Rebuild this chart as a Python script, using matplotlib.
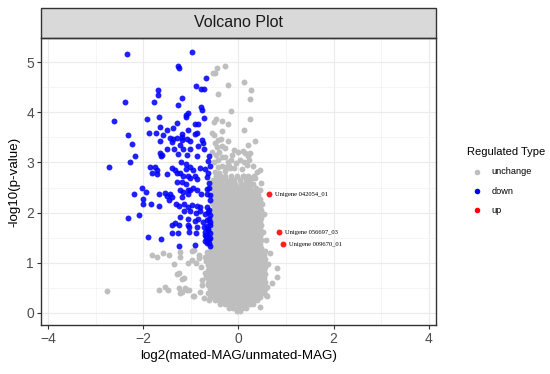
import matplotlib
matplotlib.use("Agg")
import matplotlib.pyplot as plt
from matplotlib.patches import Rectangle
from matplotlib.lines import Line2D
from matplotlib.ticker import MultipleLocator

plt.rcParams['font.family'] = ['Liberation Sans', 'DejaVu Sans']

# (log2 fold change, -log10 p)
DOWN_POINTS = [
    (-2.35, 5.16), (-0.98, 5.20), (-1.27, 4.92), (-1.25, 4.88), (-0.69, 4.68),
    (-0.89, 4.52), (-0.78, 4.46), (-0.73, 4.46), (-1.70, 4.44), (-1.70, 4.35),
    (-2.39, 4.21), (-1.78, 4.20), (-1.18, 4.28), (-1.27, 4.14), (-0.79, 4.10),
    (-0.76, 4.05), (-1.07, 3.98), (-1.10, 3.94), (-1.11, 3.91), (-2.61, 3.82),
    (-1.92, 3.86), (-1.66, 3.90), (-1.30, 3.79), (-0.91, 3.76), (-0.85, 3.76),
    (-0.72, 3.88), (-1.65, 3.70), (-1.50, 3.65), (-1.37, 3.69), (-1.07, 3.65),
    (-1.88, 3.59), (-1.74, 3.59), (-1.58, 3.55), (-1.19, 3.57), (-0.92, 3.57),
    (-0.88, 3.58), (-2.33, 3.55), (-2.23, 3.37), (-1.44, 3.49), (-1.37, 3.46),
    (-1.30, 3.49), (-1.19, 3.50), (-1.18, 3.45), (-1.09, 3.46), (-0.76, 3.45),
    (-0.74, 3.38), (-1.65, 3.42), (-1.40, 3.41), (-1.23, 3.34), (-1.01, 3.42),
    (-0.85, 3.33), (-1.50, 3.27), (-1.36, 3.27), (-1.16, 3.27), (-1.02, 3.27),
    (-0.73, 3.27), (-2.17, 3.13), (-2.27, 3.00), (-2.72, 2.90), (-1.64, 3.18),
    (-1.62, 3.13), (-1.60, 3.15), (-1.27, 3.17), (-1.09, 3.15), (-0.88, 3.13),
    (-0.62, 3.12), (-1.20, 3.01), (-1.11, 2.97), (-1.85, 2.90), (-1.76, 2.90),
    (-1.72, 2.85), (-1.81, 2.78), (-1.72, 2.76), (-1.50, 2.76), (-1.39, 2.89),
    (-1.33, 2.85), (-1.29, 2.79), (-1.11, 2.86), (-1.02, 2.90), (-0.95, 2.85),
    (-0.80, 2.89), (-0.70, 2.87), (-0.65, 2.78), (-1.22, 2.78), (-1.16, 2.72),
    (-1.07, 2.73), (-0.91, 2.73), (-0.87, 2.66), (-0.67, 2.70), (-0.62, 2.60),
    (-1.30, 2.61), (-1.18, 2.62), (-1.11, 2.58), (-1.01, 2.68), (-2.03, 2.50),
    (-1.95, 2.41), (-2.20, 2.37), (-1.68, 2.38), (-1.55, 2.40), (-1.51, 2.34),
    (-1.43, 2.38), (-1.39, 2.31), (-1.47, 2.26), (-1.22, 2.45), (-1.16, 2.41),
    (-1.18, 2.32), (-1.07, 2.45), (-1.07, 2.38), (-1.01, 2.45), (-0.95, 2.49),
    (-0.87, 2.45), (-0.78, 2.38), (-0.67, 2.48), (-0.67, 2.38), (-0.59, 2.36),
    (-2.00, 2.28), (-2.00, 2.18), (-1.83, 2.18), (-1.68, 2.14), (-1.32, 2.18),
    (-1.25, 2.13), (-1.15, 2.17), (-1.07, 2.12), (-0.98, 2.16), (-0.88, 2.14),
    (-0.80, 2.12), (-0.66, 2.12), (-1.15, 2.04), (-1.02, 2.04), (-0.90, 2.00),
    (-0.81, 2.04), (-0.71, 1.98), (-0.64, 2.02), (-2.33, 1.89), (-2.09, 1.96),
    (-1.22, 1.92), (-1.07, 1.87), (-0.92, 1.83), (-0.85, 1.88), (-1.33, 1.79),
    (-1.39, 1.76), (-1.25, 1.76), (-0.74, 1.81), (-0.67, 1.85), (-0.62, 1.88),
    (-0.59, 1.81), (-1.07, 1.75), (-1.05, 1.71), (-0.88, 1.71), (-0.73, 1.71),
    (-0.66, 1.73), (-0.60, 1.75), (-0.71, 1.61), (-0.64, 1.65), (-0.59, 1.60),
    (-1.39, 1.60), (-1.27, 1.60), (-1.05, 1.61), (-0.90, 1.60), (-1.90, 1.51),
    (-1.62, 1.47), (-0.67, 1.45), (-0.62, 1.48), (-0.69, 1.52), (-1.25, 1.33),
    (-0.92, 1.36), (-0.59, 1.33), (-0.71, 1.44), (-0.66, 1.40), (-0.70, 1.56),
    (-0.66, 1.55), (-0.64, 3.02), (-0.60, 2.92), (-0.62, 2.50), (-0.60, 2.25),
    (-0.61, 2.05), (-0.60, 1.95), (-0.63, 1.68), (-0.60, 1.50), (-0.62, 1.40),
]

UP_X = [0.65, 0.85, 0.94]
UP_Y = [2.37, 1.61, 1.37]
UP_LABELS = ["Unigene 042054_01", "Unigene 056697_03", "Unigene 009670_01"]

# scattered unchanged genes outside the dense core
GRAY_POINTS = [
    (-0.29, 4.93), (-0.45, 4.88), (-0.49, 4.79), (-0.53, 4.79), (-0.22, 4.55),
    (0.11, 4.60), (0.27, 4.44), (-0.42, 4.36), (0.24, 4.26), (-0.15, 4.03),
    (0.25, 3.87), (-0.48, 3.87), (-0.52, 3.80), (-0.35, 3.82), (-0.21, 3.76),
    (-0.56, 3.59), (-0.52, 3.55), (-0.35, 3.63), (0.11, 3.65), (-0.42, 3.45),
    (-0.36, 3.46), (-0.21, 3.43), (-0.35, 3.33), (-0.45, 3.30), (0.35, 3.42),
    (0.20, 3.34), (-0.56, 3.21), (-0.10, 3.25), (-0.13, 3.15), (-0.29, 3.11),
    (-0.34, 3.10), (0.10, 3.23), (0.14, 3.18), (0.20, 3.13), (0.25, 3.18),
    (0.11, 3.01), (0.07, 2.87), (0.45, 2.84), (-0.43, 2.91), (-0.35, 2.92),
    (-0.27, 2.91), (-0.20, 2.93), (-0.18, 2.88), (-0.10, 2.89), (0.27, 2.69),
    (0.34, 2.69), (0.10, 2.72), (-0.50, 3.38), (-0.28, 3.28), (0.03, 3.05),
    (-0.05, 2.98), (0.18, 2.95), (0.30, 2.92), (0.38, 2.80), (-0.50, 2.80),
    (-0.40, 2.78), (0.22, 3.05), (-0.15, 3.05), (0.00, 3.20), (-0.52, 3.00),
    (-0.44, 3.05), (-0.48, 3.15), (-0.40, 3.20), (-0.22, 3.00), (-0.28, 2.82),
    (0.49, 2.18), (0.53, 1.98), (0.52, 1.62), (0.66, 1.19), (0.81, 0.89),
    (0.81, 0.72), (0.60, 0.33), (0.60, 0.51), (0.57, 0.35), (0.45, 0.12),
    (0.58, 1.45), (0.62, 0.98), (0.70, 0.60), (0.46, 2.45), (0.48, 2.60),
    (-0.94, 1.26), (-0.97, 1.06), (-1.15, 0.69), (-0.94, 0.33), (-1.08, 0.46),
    (-1.81, 1.16), (-1.71, 1.12), (-1.58, 1.19), (-1.47, 1.16), (-1.23, 1.22),
    (-1.22, 1.12), (-0.98, 1.24), (-1.36, 0.98), (-1.07, 0.99), (-0.90, 0.99),
    (-0.83, 1.10), (-0.71, 1.11), (-0.78, 0.91), (-0.63, 0.95), (-1.30, 0.78),
    (-1.25, 0.79), (-1.18, 0.68), (-0.71, 0.80), (-0.69, 0.72), (-0.76, 0.66),
    (-0.64, 0.60), (-2.77, 0.43), (-1.67, 0.46), (-1.55, 0.51), (-1.49, 0.46),
    (-1.26, 0.50), (-1.23, 0.40), (-1.18, 0.42), (-1.12, 0.50), (-1.05, 0.46),
    (-0.80, 0.42), (-0.95, 0.33), (-0.73, 0.30), (-0.62, 0.26), (-0.76, 0.56),
    (-0.83, 1.16), (-0.69, 1.04), (-0.62, 1.07), (-0.58, 1.00), (-0.66, 1.22),
    (-0.60, 1.18),
]

# dense core of unchanged genes, estimated row by row (y, x values)
CORE_TIP_ROWS = [
    (0.03, [-0.03, 0.04]),
    (0.10, [-0.20, -0.11, -0.02, 0.07, 0.16]),
    (0.175, [-0.38, -0.29, -0.20, -0.11, -0.02, 0.07, 0.16, 0.25, 0.31]),
    (0.25, [-0.50, -0.42, -0.33, -0.24, -0.15, -0.06, 0.03, 0.12, 0.21, 0.30, 0.38]),
    (0.325, [-0.60, -0.51, -0.42, -0.33, -0.24, -0.15, -0.06, 0.03, 0.12, 0.21,
             0.30, 0.39, 0.45]),
]
CORE_TOP_ROWS = [
    (2.35, [-0.56, -0.47, -0.38, -0.29, -0.20, -0.11, -0.02, 0.07, 0.16, 0.25, 0.34, 0.42]),
    (2.425, [-0.52, -0.43, -0.34, -0.25, -0.16, -0.07, 0.02, 0.11, 0.20, 0.29, 0.38]),
    (2.50, [-0.56, -0.47, -0.38, -0.29, -0.20, -0.11, -0.02, 0.07, 0.16, 0.25, 0.36]),
    (2.575, [-0.52, -0.43, -0.34, -0.25, -0.16, -0.07, 0.05, 0.13, 0.22, 0.31]),
    (2.65, [-0.54, -0.45, -0.36, -0.27, -0.18, -0.09, 0.03, 0.15, 0.24]),
    (2.73, [-0.48, -0.38, -0.29, -0.16, -0.04, 0.12, 0.21, 0.33]),
]
CORE_WIDE_A = [-0.64, -0.55, -0.46, -0.37, -0.28, -0.19, -0.10, -0.01, 0.08, 0.17,
               0.26, 0.35, 0.44, 0.53]
CORE_WIDE_B = [-0.60, -0.51, -0.42, -0.33, -0.24, -0.15, -0.06, 0.03, 0.12, 0.21,
               0.30, 0.39, 0.48, 0.55]
CORE_WIDE_Y_A = [0.40, 0.55, 0.70, 0.85, 1.00, 1.15]
CORE_WIDE_Y_B = [0.475, 0.625, 0.775, 0.925, 1.075, 1.225]
CORE_NARROW_A = [-0.56, -0.47, -0.38, -0.29, -0.20, -0.11, -0.02, 0.07, 0.16, 0.25,
                 0.34, 0.43, 0.48]
CORE_NARROW_B = [-0.52, -0.43, -0.34, -0.25, -0.16, -0.07, 0.02, 0.11, 0.20, 0.29,
                 0.38, 0.46]
CORE_NARROW_Y_A = [1.30, 1.45, 1.60, 1.75, 1.90, 2.05, 2.20]
CORE_NARROW_Y_B = [1.375, 1.525, 1.675, 1.825, 1.975, 2.125, 2.275]

COLORS = {'unchange': '#BEBEBE', 'down': '#0000FF', 'up': '#FF0000'}
PT_SIZE = 18


def build_core():
    rows = list(CORE_TIP_ROWS) + list(CORE_TOP_ROWS)
    rows += [(y, CORE_WIDE_A) for y in CORE_WIDE_Y_A]
    rows += [(y, CORE_WIDE_B) for y in CORE_WIDE_Y_B]
    rows += [(y, CORE_NARROW_A) for y in CORE_NARROW_Y_A]
    rows += [(y, CORE_NARROW_B) for y in CORE_NARROW_Y_B]
    xs, ys = [], []
    for y, row in rows:
        xs += row
        ys += [y] * len(row)
    return xs, ys


fig = plt.figure(figsize=(5.5, 3.74), dpi=100)
ax = fig.add_axes([0.0745, 0.131, 0.7182, 0.7674])

core_x, core_y = build_core()
gray_x = core_x + [p[0] for p in GRAY_POINTS]
gray_y = core_y + [p[1] for p in GRAY_POINTS]
down_x = [p[0] for p in DOWN_POINTS]
down_y = [p[1] for p in DOWN_POINTS]

ax.scatter(gray_x, gray_y, s=PT_SIZE, color=COLORS['unchange'], linewidths=0, zorder=3)
ax.scatter(down_x, down_y, s=PT_SIZE, color=COLORS['down'], alpha=0.88, linewidths=0, zorder=4)
ax.scatter(UP_X, UP_Y, s=PT_SIZE, color=COLORS['up'], alpha=0.88, linewidths=0, zorder=5)

for x, y, label in zip(UP_X, UP_Y, UP_LABELS):
    ax.text(x + 0.12, y, label, fontsize=4.7, family=['Liberation Serif', 'DejaVu Serif'],
            va='center', ha='left', zorder=6)

ax.set_xlim(-4.15, 4.15)
ax.set_ylim(-0.24, 5.48)
ax.xaxis.set_major_locator(MultipleLocator(2))
ax.xaxis.set_minor_locator(MultipleLocator(1))
ax.yaxis.set_major_locator(MultipleLocator(1))
ax.yaxis.set_minor_locator(MultipleLocator(0.5))
ax.grid(which='major', color='#EBEBEB', lw=0.8, zorder=0)
ax.grid(which='minor', color='#F2F2F2', lw=0.5, zorder=0)
ax.set_axisbelow(True)
ax.tick_params(which='major', length=2.6, width=0.8, color='#333333',
               labelsize=10, labelcolor='#4D4D4D', pad=2.5)
ax.tick_params(which='minor', length=0)
for sp in ax.spines.values():
    sp.set_color('#333333')
    sp.set_linewidth(1.0)

ax.set_xlabel('log2(mated-MAG/unmated-MAG)', fontsize=9.6, labelpad=3)
ax.set_ylabel('-log10(p-value)', fontsize=9.6, labelpad=4)

# facet strip on top of the panel
strip_h = 30 / 287
ax.add_patch(Rectangle((0, 1), 1, strip_h, transform=ax.transAxes, clip_on=False,
                       facecolor='#D9D9D9', edgecolor='#333333', lw=1.0))
ax.text(0.5, 1 + strip_h / 2, 'Volcano Plot', transform=ax.transAxes,
        ha='center', va='center', fontsize=11.5, color='#1A1A1A')

# legend
fig.text(0.8485, 0.5944, 'Regulated Type', fontsize=8, va='center', ha='left')
for yk, key in zip([0.5409, 0.4893, 0.4385], ['unchange', 'down', 'up']):
    fig.add_artist(Line2D([0.8667], [yk], marker='o', ms=4.0, ls='none',
                          color=COLORS[key], markeredgewidth=0, transform=fig.transFigure))
    fig.text(0.894, yk, key, fontsize=6.6, va='center', ha='left')

fig.savefig('out.png', dpi=100)
